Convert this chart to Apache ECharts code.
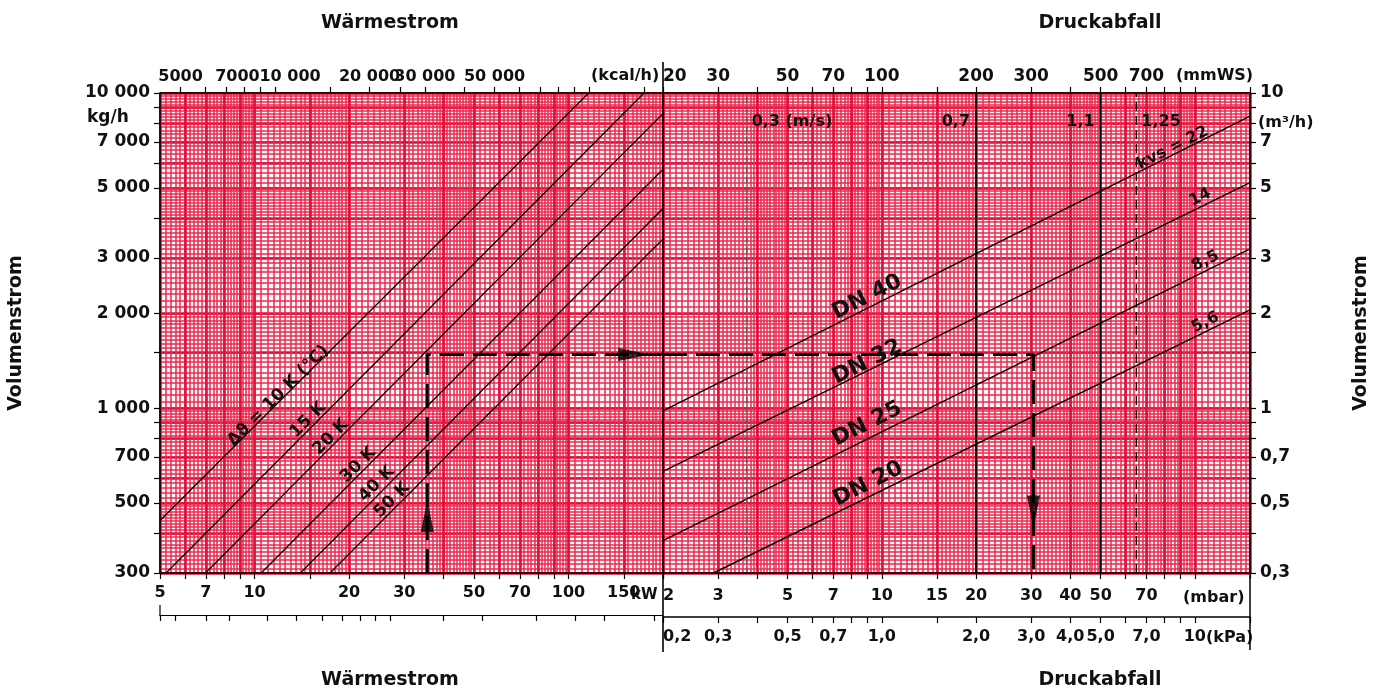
<!DOCTYPE html>
<html>
<head>
<meta charset="utf-8">
<script src="https://cdn.jsdelivr.net/npm/echarts@6/dist/echarts.min.js"></script>
<style>
html, body { margin: 0; padding: 0; background: #fff; }
#main { width: 1379px; height: 693px; }
</style>
</head>
<body>
<div id="main"></div>
<script>
// --- Daten ---
// Wärmestrom kW -> Massenstrom kg/h, eine Gerade je Temperaturspreizung
var dtNames = ['10 K', '15 K', '20 K', '30 K', '40 K', '50 K'];
var dtLines = [
  [[5, 440], [116, 10000]],
  [[5.23, 300], [174, 10000]],
  [[6.98, 300], [200, 8600]],
  [[10.5, 300], [200, 5730]],
  [[14, 300], [200, 4300]],
  [[17.4, 300], [200, 3440]]
];
// Druckabfall mbar -> Volumenstrom m3/h, eine Gerade je kvs-Wert
var kvsNames = ['22', '14', '8,5', '5,6'];
var kvsLines = [
  [[2, 0.98], [150, 8.45]],
  [[2, 0.63], [150, 5.2]],
  [[2, 0.38], [150, 3.2]],
  [[2.9, 0.3], [150, 2.05]]
];
// senkrechte Linien der Geschwindigkeit (mbar)
var velNames = ['0,3 (m/s)', '0,7', '1,1', '1,25'];
var velAt = [3.7, 20, 50, 65];
// Ablesebeispiel
var examplePathLeft = [[35.5, 300], [35.5, 1480], [200, 1480]];
var examplePathRight = [[2, 1.48], [30.5, 1.48], [30.5, 0.3]];
var arrowsLeft = [[35.5, 455], [162, 1480]];
var arrowsRight = [[30.5, 0.47]];

// Achsen
var kwLabels = [5, 7, 10, 20, 30, 50, 70, 100, 150];
var kwTicks = [5, 6, 7, 8, 9, 10, 15, 20, 30, 40, 50, 60, 70, 80, 90, 100, 150, 200];
var kwBarTicks = [5, 5.6, 7, 8.3, 11, 13.6, 16.4, 19, 21.7, 24.2, 27, 40, 53, 79, 105, 130, 188];
var kcalLabels = [5000, 7000, 10000, 20000, 30000, 50000];
var kcalTicks = [5000, 6000, 7000, 8000, 9000, 10000, 15000, 20000, 25000, 30000, 40000, 50000,
  60000, 70000, 80000, 90000, 100000, 150000];
var mbarLabels = [2, 3, 5, 7, 10, 15, 20, 30, 40, 50, 70];
var mbarTicks = [2, 3, 4, 5, 6, 7, 8, 9, 10, 15, 20, 30, 40, 50, 60, 70, 80, 90, 100, 150];
var mmwsLabels = [20, 30, 50, 70, 100, 200, 300, 500, 700];
var mmwsTicks = [20, 30, 40, 50, 60, 70, 80, 90, 100, 150, 200, 300, 400, 500, 600, 700, 800, 900, 1000, 1500];
var kpaLabels = [0.2, 0.3, 0.5, 0.7, 1, 2, 3, 4, 5, 7, 10];
var kpaTicks = [0.2, 0.3, 0.4, 0.5, 0.6, 0.7, 0.8, 0.9, 1, 1.5, 2, 3, 4, 5, 6, 7, 8, 9, 10, 15];
var kgLabels = [300, 500, 700, 1000, 2000, 3000, 5000, 7000, 10000];
var kgTicks = [300, 400, 500, 600, 700, 800, 900, 1000, 1500, 2000, 3000, 4000, 5000, 6000, 7000, 8000, 9000, 10000];
var m3Labels = [0.3, 0.5, 0.7, 1, 2, 3, 5, 7, 10];
var m3Ticks = [0.3, 0.4, 0.5, 0.6, 0.7, 0.8, 0.9, 1, 1.5, 2, 3, 4, 5, 6, 7, 8, 9, 10];

// Beschriftungen an den Linien (Datenkoordinaten der Textmitte)
var dtLabelText = ['Δϑ = 10 K (°C)', '15 K', '20 K', '30 K', '40 K', '50 K'];
var dtLabelAt = [[11.9, 1095], [14.8, 918], [17.5, 810], [21.4, 661], [24.5, 575], [27.4, 511]];
var dnLabelText = ['DN 40', 'DN 32', 'DN 25', 'DN 20'];
var dnLabelAt = [[8.97, 2.25], [8.97, 1.4], [8.97, 0.89], [9.04, 0.575]];
var kvsLabelText = ['kvs = 22', '14', '8,5', '5,6'];
var kvsLabelAt = [[85, 6.7], [104, 4.67], [108, 2.93], [108, 1.87]];
var velLabelY = 8.1;

var FONT = 'DejaVu Sans';
var L = 160, M = 663, R = 1250, T = 93, B = 573;

// Millimeterpapier: Linienwerte je Dekade
function paperValues(min, max, rules) {
  var out = [];
  for (var e = Math.floor(Math.log10(min)); e <= Math.ceil(Math.log10(max)); e++) {
    var p = Math.pow(10, e);
    rules.forEach(function (r) {
      for (var k = 0; r[0] + k * r[2] < r[1] - 1e-9; k++) {
        var v = +((r[0] + k * r[2]) * p).toPrecision(6);
        if (v >= min && v <= max) out.push(v);
      }
    });
  }
  return out;
}
var fineRules = [[1, 2, 0.05], [2, 5, 0.1], [5, 10, 0.2]];
var boldRules = [[1, 10, 1], [1.5, 2, 1]];

function kgFmt(v) {
  var s = String(v);
  return v >= 1000 ? s.slice(0, s.length - 3) + ' ' + s.slice(-3) : s;
}
// 7000 und 10 000 stehen im Original etwas nach rechts versetzt
function kcalFmt(v) {
  var s = String(v);
  if (v >= 10000) s = s.slice(0, s.length - 3) + ' ' + s.slice(-3);
  if (v === 7000) return '{a|' + s + '}';
  if (v === 10000) return '{b|' + s + '}';
  return s;
}
function comma(v) { return String(v).replace('.', ','); }
function kpaFmt(v) { return v < 10 ? v.toFixed(1).replace('.', ',') : String(v); }

function tickAxis(o) {
  return {
    type: 'log', gridIndex: o.grid, position: o.pos, offset: o.offset || 0,
    min: o.min, max: o.max, z: 5,
    axisLine: { show: true, onZero: false, lineStyle: { color: '#000', width: o.lineWidth || 1.5 } },
    axisTick: { show: true, length: o.tickLen || 6, customValues: o.ticks, lineStyle: { color: '#000', width: 1.2 } },
    axisLabel: o.labels ? {
      show: true, customValues: o.labels, formatter: o.fmt, margin: o.margin || 8,
      fontFamily: FONT, fontWeight: 'bold', fontSize: o.fontSize || 16, color: '#111',
      alignMinLabel: o.alignMin, hideOverlap: false, showMinLabel: true, showMaxLabel: true,
      rich: o.rich
    } : { show: false },
    splitLine: { show: false }
  };
}
function paperAxis(grid, pos, min, max, rules, color, width) {
  return {
    type: 'log', gridIndex: grid, position: pos, min: min, max: max, z: 1,
    axisLine: { show: false }, axisLabel: { show: false },
    axisTick: { show: false, customValues: paperValues(min, max, rules) },
    splitLine: { show: true, lineStyle: { color: color, width: width } }
  };
}

var fineColor = '#ea2a4f', boldColor = '#e0103a';
var fineWidth = 1.5, boldWidth = 2.6;
var shiftRich = {
  a: { fontFamily: FONT, fontWeight: 'bold', fontSize: 16, color: '#111', padding: [0, 0, 0, 22] },
  b: { fontFamily: FONT, fontWeight: 'bold', fontSize: 16, color: '#111', padding: [0, 0, 0, 30] }
};

var xAxes = [
  tickAxis({ grid: 0, pos: 'bottom', min: 5, max: 200, ticks: kwTicks, labels: kwLabels, margin: 12 }),
  tickAxis({ grid: 0, pos: 'top', min: 4300, max: 172000, ticks: kcalTicks, labels: kcalLabels, fmt: kcalFmt, rich: shiftRich }),
  tickAxis({ grid: 0, pos: 'bottom', offset: 42, min: 5, max: 200, ticks: kwBarTicks, lineWidth: 1.2 }),
  paperAxis(0, 'bottom', 5, 200, fineRules, fineColor, fineWidth),
  paperAxis(0, 'bottom', 5, 200, boldRules, boldColor, boldWidth),
  tickAxis({ grid: 1, pos: 'bottom', min: 2, max: 150, ticks: mbarTicks, labels: mbarLabels, margin: 15, alignMin: 'left' }),
  tickAxis({ grid: 1, pos: 'top', min: 20, max: 1500, ticks: mmwsTicks, labels: mmwsLabels, fontSize: 17, alignMin: 'left' }),
  tickAxis({ grid: 1, pos: 'bottom', offset: 44, min: 0.2, max: 15, ticks: kpaTicks, labels: kpaLabels, fmt: kpaFmt, margin: 12, alignMin: 'left' }),
  paperAxis(1, 'bottom', 2, 150, fineRules, fineColor, fineWidth),
  paperAxis(1, 'bottom', 2, 150, boldRules, boldColor, boldWidth)
];
var yAxes = [
  tickAxis({ grid: 0, pos: 'left', min: 300, max: 10000, ticks: kgTicks, labels: kgLabels, fmt: kgFmt, fontSize: 17, margin: 10 }),
  paperAxis(0, 'left', 300, 10000, fineRules, fineColor, fineWidth),
  paperAxis(0, 'left', 300, 10000, boldRules, boldColor, boldWidth),
  tickAxis({ grid: 1, pos: 'right', min: 0.3, max: 10, ticks: m3Ticks, labels: m3Labels, fmt: comma, fontSize: 17, margin: 10 }),
  paperAxis(1, 'left', 0.3, 10, fineRules, fineColor, fineWidth),
  paperAxis(1, 'left', 0.3, 10, boldRules, boldColor, boldWidth)
];

var series = [];
dtLines.forEach(function (d, i) {
  series.push({ name: dtNames[i], type: 'line', xAxisIndex: 0, yAxisIndex: 0, data: d, symbol: 'none',
    silent: true, z: 3, lineStyle: { color: '#000', width: 1.3 } });
});
kvsLines.forEach(function (d, i) {
  series.push({ name: 'kvs ' + kvsNames[i], type: 'line', xAxisIndex: 5, yAxisIndex: 3, data: d, symbol: 'none',
    silent: true, z: 3, lineStyle: { color: '#000', width: 1.4 } });
});
var velStyles = [
  { color: '#555', width: 1, type: [6, 4] },
  { color: '#000', width: 1.6, type: 'solid' },
  { color: '#000', width: 1.6, type: 'solid' },
  { color: '#000', width: 1.4, type: [9, 5] }
];
velAt.forEach(function (v, i) {
  series.push({ name: velNames[i], type: 'line', xAxisIndex: 5, yAxisIndex: 3, data: [[v, 0.3], [v, 10]],
    symbol: 'none', silent: true, z: 3, lineStyle: velStyles[i] });
});
series.push({ type: 'line', xAxisIndex: 0, yAxisIndex: 0, data: examplePathLeft, symbol: 'none', silent: true, z: 4,
  lineStyle: { color: '#000', width: 3, type: [24, 9] } });
series.push({ type: 'line', xAxisIndex: 5, yAxisIndex: 3, data: examplePathRight, symbol: 'none', silent: true, z: 4,
  lineStyle: { color: '#000', width: 3, type: [24, 9] } });
series.push({ type: 'scatter', xAxisIndex: 0, yAxisIndex: 0, silent: true, z: 5, symbol: 'triangle', symbolSize: [13, 32],
  itemStyle: { color: '#000' },
  data: [{ value: arrowsLeft[0], symbolRotate: 0 }, { value: arrowsLeft[1], symbolRotate: -90 }] });
series.push({ type: 'scatter', xAxisIndex: 5, yAxisIndex: 3, silent: true, z: 5, symbol: 'triangle', symbolSize: [13, 32],
  itemStyle: { color: '#000' },
  data: [{ value: arrowsRight[0], symbolRotate: 180 }] });

var chart = echarts.init(document.getElementById('main'));
chart.setOption({
  animation: false,
  backgroundColor: '#fff',
  grid: [
    { left: L, top: T, width: M - L, height: B - T, show: true, backgroundColor: '#fff8f9', borderWidth: 0, outerBoundsMode: 'none' },
    { left: M, top: T, width: R - M, height: B - T, show: true, backgroundColor: '#fff8f9', borderWidth: 0, outerBoundsMode: 'none' }
  ],
  xAxis: xAxes,
  yAxis: yAxes,
  series: series
});

// --- Texte und Rahmen ---
function toPx(grid, p) {
  return grid === 0
    ? chart.convertToPixel({ xAxisIndex: 0, yAxisIndex: 0 }, p)
    : chart.convertToPixel({ xAxisIndex: 5, yAxisIndex: 3 }, p);
}
function text(x, y, s, size, opt) {
  opt = opt || {};
  return {
    type: 'text', x: x, y: y, rotation: opt.rot || 0, z: 20, silent: true,
    style: { text: s, fontFamily: FONT, fontWeight: opt.weight || 'bold', fontSize: size, fill: '#111',
      align: opt.align || 'center', verticalAlign: 'middle' }
  };
}
function line(x1, y1, x2, y2, w) {
  return { type: 'line', z: 20, silent: true, shape: { x1: x1, y1: y1, x2: x2, y2: y2 },
    style: { stroke: '#000', lineWidth: w || 1.5 } };
}

var g = [];
g.push(text(390, 23, 'Wärmestrom', 19));
g.push(text(390, 680, 'Wärmestrom', 19));
g.push(text(1100, 23, 'Druckabfall', 19));
g.push(text(1100, 680, 'Druckabfall', 19));
g.push(text(16, 333, 'Volumenstrom', 19, { rot: Math.PI / 2 }));
g.push(text(1361, 333, 'Volumenstrom', 19, { rot: Math.PI / 2 }));
g.push(text(591, 76, '(kcal/h)', 16, { align: 'left' }));
g.push(text(1176, 76, '(mmWS)', 16, { align: 'left' }));
g.push(text(631, 595, 'kW', 15, { align: 'left' }));
g.push(text(1183, 598, '(mbar)', 16, { align: 'left' }));
g.push(text(1206, 638, '(kPa)', 16, { align: 'left' }));
g.push(text(87, 118, 'kg/h', 17, { align: 'left' }));
g.push(text(1258, 123, '(m³/h)', 16, { align: 'left' }));
g.push(line(M, 62, M, 652, 1.6));
g.push(line(R, B, R, 650, 1.5));
g.push(line(L, 605, L, 616, 1.2));

dtLabelText.forEach(function (s, i) {
  var p = toPx(0, dtLabelAt[i]);
  g.push(text(p[0], p[1], s, 17, { rot: Math.PI / 4 }));
});
dnLabelText.forEach(function (s, i) {
  var p = toPx(1, dnLabelAt[i]);
  g.push(text(p[0], p[1], s, 22, { rot: 0.466 }));
});
kvsLabelText.forEach(function (s, i) {
  var p = toPx(1, kvsLabelAt[i]);
  g.push(text(p[0], p[1], s, 16, { rot: 0.466 }));
});
var velAlign = ['left', 'right', 'right', 'left'];
velNames.forEach(function (s, i) {
  var p = toPx(1, [velAt[i], velLabelY]);
  var dx = velAlign[i] === 'left' ? 5 : -6;
  g.push(text(p[0] + dx, p[1], s, 16, { align: velAlign[i] }));
});

chart.setOption({ graphic: g });
</script>
</body>
</html>
